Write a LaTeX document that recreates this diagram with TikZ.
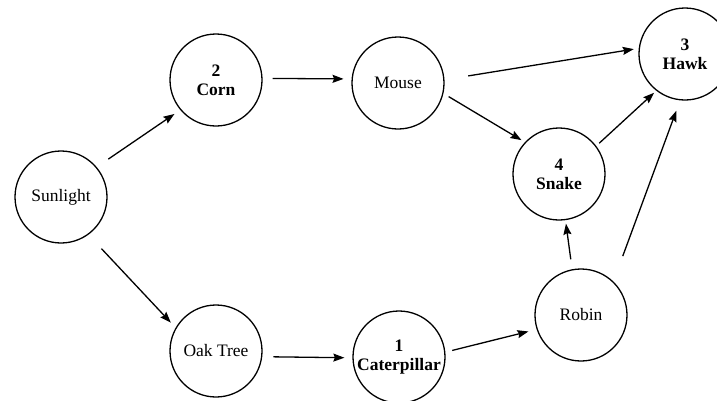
\documentclass[tikz,border=0pt]{standalone}
\usepackage{fontspec}
\setmainfont{Liberation Serif}
\usetikzlibrary{arrows.meta}
\begin{document}
\begin{tikzpicture}[x=1pt,y=-1pt,
  every node/.style={circle,draw,line width=1.3pt,minimum size=92pt,inner sep=0pt,align=center,
    font=\fontsize{17.5}{19}\selectfont},
  bnode/.style={font=\fontsize{17.5}{19}\selectfont\bfseries},
  arr/.style={line width=1.3pt,-{Stealth[length=11pt,width=8pt,inset=1.5pt]}}]
\useasboundingbox (0,0) rectangle (717,400);
\node (sun) at (61,197) {Sunlight};
\node[bnode] (corn) at (216,80) {2\\Corn};
\node (mouse) at (398,83) {Mouse};
\node[bnode] (hawk) at (685,54) {3\\Hawk};
\node[bnode] (snake) at (559,174) {4\\Snake};
\node (robin) at (581,315) {Robin};
\node[bnode] (cat) at (399,357) {1\\Caterpillar};
\node (oak) at (216,351) {Oak Tree};
\draw[arr,shorten <=14pt,shorten >=7pt] (sun.40) -- (corn.-140);
\draw[arr,shorten <=19pt,shorten >=7pt] (sun.-54) -- (oak.150);
\draw[arr,shorten <=10pt,shorten >=8pt] (corn.2) -- (mouse.175);
\draw[arr,shorten <=24pt,shorten >=5pt] (mouse.4) -- (hawk.173);
\draw[arr,shorten <=6pt,shorten >=4pt] (mouse.-13) -- (snake.137);
\draw[arr,shorten <=4pt,shorten >=3pt] (snake.37) -- (hawk.-128);
\draw[arr,shorten <=10pt,shorten >=3.5pt] (robin.101) -- (snake.-82);
\draw[arr,shorten <=27pt,shorten >=11pt] (robin.46) -- (hawk.-96);
\draw[arr,shorten <=11pt,shorten >=8pt] (oak.-7) -- (cat.-179);
\draw[arr,shorten <=7pt,shorten >=8.5pt] (cat.6.5) -- (robin.-162);
\end{tikzpicture}
\end{document}
